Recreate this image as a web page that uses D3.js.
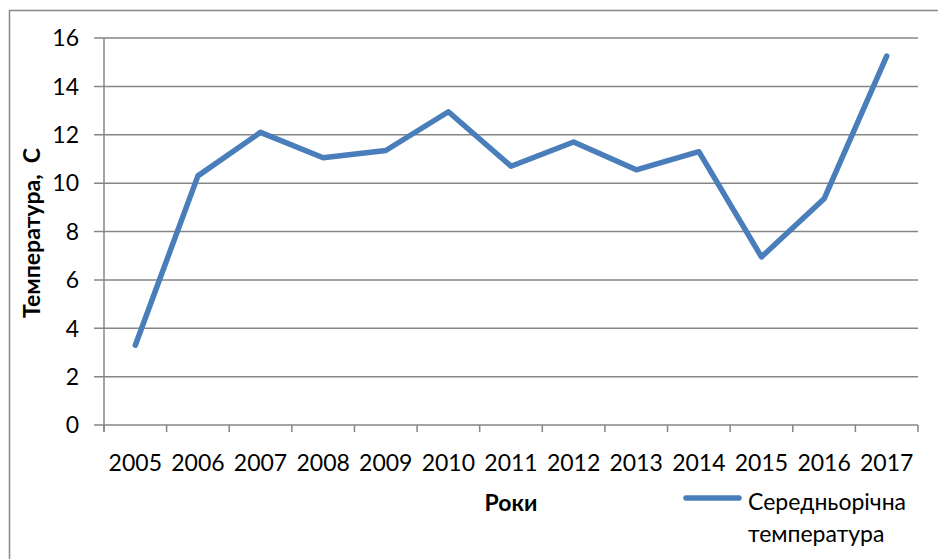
<!DOCTYPE html>
<html>
<head>
<meta charset="utf-8">
<script src="https://cdn.jsdelivr.net/npm/d3@7"></script>
<style>
  body { margin: 0; background: #fff; }
  svg { display: block; font-family: Lato, "Open Sans", sans-serif; }
</style>
</head>
<body>
<div id="chart"></div>
<script>
const width = 938;
const height = 559;

const years = ["2005", "2006", "2007", "2008", "2009", "2010", "2011",
  "2012", "2013", "2014", "2015", "2016", "2017"];
const temps = [3.3, 10.3, 12.1, 11.05, 11.35, 12.95, 10.7, 11.7, 10.55, 11.3, 6.95, 9.35, 15.25];
const yTicks = [0, 2, 4, 6, 8, 10, 12, 14, 16];
const seriesName = ["Середньорічна", "температура"];

const margin = { left: 104, right: 20, top: 38, bottom: 134 };

const svg = d3.select("#chart")
  .append("svg")
  .attr("width", width)
  .attr("height", height);

// outer frame (goes off the bottom/right edge like in the source)
svg.append("rect")
  .attr("x", 9.5).attr("y", 10.5)
  .attr("width", 940).attr("height", 560)
  .attr("fill", "none")
  .attr("stroke", "#898989")
  .attr("stroke-width", 1.5);

const x = d3.scaleBand()
  .domain(years)
  .range([margin.left, 918]);

const y = d3.scaleLinear()
  .domain([0, 16])
  .range([425, margin.top]);

// gridlines
svg.append("g")
  .selectAll("line")
  .data(yTicks)
  .join("line")
  .attr("x1", 94)
  .attr("x2", 918)
  .attr("y1", d => y(d))
  .attr("y2", d => y(d))
  .attr("stroke", "#868686")
  .attr("stroke-width", 1.5);

// y axis line
svg.append("line")
  .attr("x1", margin.left).attr("x2", margin.left)
  .attr("y1", y(16)).attr("y2", 432)
  .attr("stroke", "#868686")
  .attr("stroke-width", 1.5);

// y tick labels
svg.append("g")
  .selectAll("text")
  .data(yTicks)
  .join("text")
  .attr("x", 79)
  .attr("y", d => y(d))
  .attr("dy", "0.36em")
  .attr("text-anchor", "end")
  .attr("font-size", 23)
  .attr("fill", "#000")
  .text(d => d);

// x tick marks at band boundaries
const bounds = years.map(d => x(d)).concat([x.range()[1]]);
svg.append("g")
  .selectAll("line")
  .data(bounds)
  .join("line")
  .attr("x1", d => d).attr("x2", d => d)
  .attr("y1", 425).attr("y2", 432)
  .attr("stroke", "#868686")
  .attr("stroke-width", 1.5);

// x labels
svg.append("g")
  .selectAll("text")
  .data(years)
  .join("text")
  .attr("x", d => x(d) + x.bandwidth() / 2)
  .attr("y", 471)
  .attr("text-anchor", "middle")
  .attr("font-size", 23)
  .attr("fill", "#000")
  .text(d => d);

// axis titles
svg.append("text")
  .attr("x", 511)
  .attr("y", 511)
  .attr("text-anchor", "middle")
  .attr("font-size", 23)
  .attr("font-weight", "bold")
  .text("Роки");

svg.append("text")
  .attr("transform", "translate(40,233) rotate(-90)")
  .attr("text-anchor", "middle")
  .attr("font-size", 23)
  .attr("font-weight", "bold")
  .attr("xml:space", "preserve")
  .text("Температура,  С");

// the line
const line = d3.line()
  .x((d, i) => x(years[i]) + x.bandwidth() / 2)
  .y(d => y(d));

svg.append("path")
  .datum(temps)
  .attr("d", line)
  .attr("fill", "none")
  .attr("stroke", "#4a7ebb")
  .attr("stroke-width", 5.5)
  .attr("stroke-linejoin", "round")
  .attr("stroke-linecap", "round");

// legend
svg.append("line")
  .attr("x1", 686).attr("x2", 739)
  .attr("y1", 498).attr("y2", 498)
  .attr("stroke", "#4a7ebb")
  .attr("stroke-width", 5.5)
  .attr("stroke-linecap", "round");

svg.append("g")
  .selectAll("text")
  .data(seriesName)
  .join("text")
  .attr("x", 748)
  .attr("y", (d, i) => 510 + i * 32)
  .attr("font-size", 23)
  .attr("fill", "#000")
  .text(d => d);
</script>
</body>
</html>
